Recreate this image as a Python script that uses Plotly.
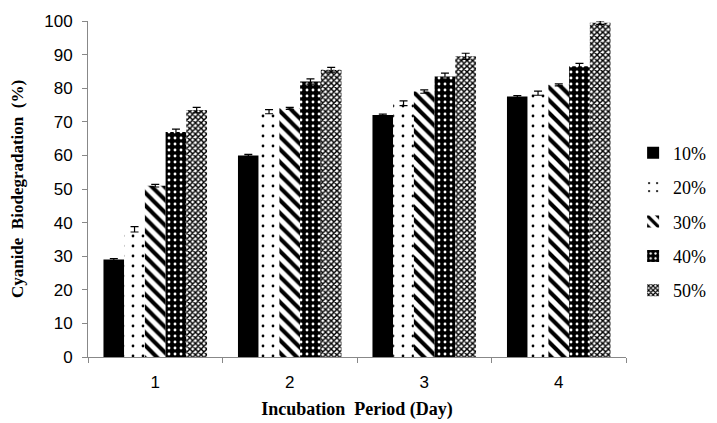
import plotly.graph_objects as go

categories = ["1", "2", "3", "4"]
series_names = ["10%", "20%", "30%", "40%", "50%"]
values = {
    "10%": [29, 60, 72, 77.5],
    "20%": [38, 73, 75.5, 78.5],
    "30%": [51, 74, 79, 81],
    "40%": [67, 82, 83.5, 86.5],
    "50%": [73.5, 85.5, 89.5, 99.5],
}
errors = {
    "10%": [0.3, 0.3, 0.3, 0.3],
    "20%": [0.8, 0.6, 0.7, 0.6],
    "30%": [0.4, 0.3, 0.5, 0.3],
    "40%": [0.8, 0.8, 1.0, 0.9],
    "50%": [0.8, 0.7, 0.9, 0.5],
}
y_ticks = [0, 10, 20, 30, 40, 50, 60, 70, 80, 90, 100]

patterns = {
    "10%": dict(shape="", bgcolor="black", fgcolor="black"),
    "20%": dict(shape=".", bgcolor="white", fgcolor="black", size=10, solidity=0.06, fillmode="replace"),
    "30%": dict(shape="\\", bgcolor="white", fgcolor="black", size=9, solidity=0.45, fillmode="replace"),
    "40%": dict(shape=".", bgcolor="black", fgcolor="white", size=6, solidity=0.18, fillmode="replace"),
    "50%": dict(shape="x", bgcolor="white", fgcolor="black", size=4, solidity=0.6, fillmode="replace"),
}

fig = go.Figure()
for name in series_names:
    fig.add_trace(go.Bar(
        x=categories, y=values[name], name=name, legendgroup=name,
        marker=dict(color="black" if name == "10%" else "white",
                    line=dict(width=0), pattern=patterns[name]),
        error_y=dict(type="data", array=errors[name], color="black", thickness=1.2, width=4),
    ))

fig.update_layout(
    width=717, height=423,
    margin=dict(l=88, r=91, t=21, b=66, autoexpand=False),
    paper_bgcolor="white", plot_bgcolor="white",
    barmode="group", bargap=0.23, bargroupgap=0,
    showlegend=True,
    legend=dict(xref="container", yref="container", x=0.883, y=0.682,
                xanchor="left", yanchor="top",
                font=dict(family="Liberation Serif", size=18, color="black"),
                itemwidth=30, tracegroupgap=8, bgcolor="rgba(0,0,0,0)"),
    font=dict(family="Liberation Sans", color="black"),
)
fig.update_xaxes(
    type="category", tickson="boundaries", ticks="outside", ticklen=5, tickcolor="#888",
    showline=True, linecolor="#888", linewidth=1, showgrid=False,
    ticklabelstandoff=10,
    tickfont=dict(family="Liberation Sans", size=17, color="black"),
    title=dict(text="Incubation  Period (Day)", standoff=10,
               font=dict(family="Liberation Serif", size=18, color="black", weight="bold")),
)
fig.update_yaxes(
    range=[0, 100], tickvals=y_ticks, ticks="outside", ticklen=5, tickcolor="#888",
    showline=True, linecolor="#888", linewidth=1, showgrid=False, zeroline=False,
    ticklabelstandoff=6,
    tickfont=dict(family="Liberation Sans", size=17, color="black"),
    title=dict(text="Cyanide  Biodegradation  (%)", standoff=16,
               font=dict(family="Liberation Serif", size=17, color="black", weight="bold")),
)

fig.write_html("out.html")
